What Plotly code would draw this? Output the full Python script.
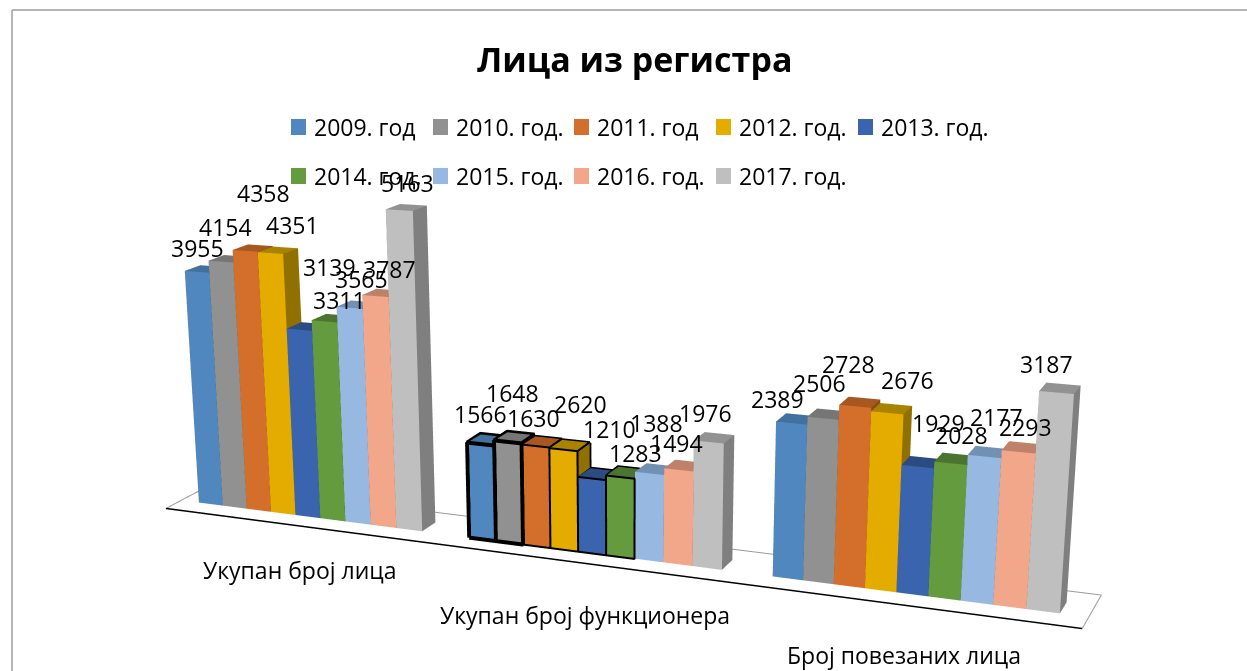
import math
import plotly.graph_objects as go

categories = ["Укупан број лица", "Укупан број функционера", "Број повезаних лица"]
series_names = ["2009. год", "2010. год.", "2011. год", "2012. год.", "2013. год.",
                "2014. год.", "2015. год.", "2016. год.", "2017. год."]
v2009 = [3955, 1566, 2389]
v2010 = [4154, 1648, 2506]
v2011 = [4358, 1630, 2728]
v2012 = [4351, 1620, 2676]   # bar height as drawn; its printed label says 2620
v2013 = [3139, 1210, 1929]
v2014 = [3311, 1283, 2028]
v2015 = [3565, 1388, 2177]
v2016 = [3787, 1494, 2293]
v2017 = [5163, 1976, 3187]
values = [v2009, v2010, v2011, v2012, v2013, v2014, v2015, v2016, v2017]
label_text_2012 = ["4351", "2620", "2676"]

# label offsets from the top of each bar, in pixels: one row per group, one entry per series
label_dx = [[0, 5, 18, 22, 30, 15, 12, 14, 8],
            [0, 4, -2, 17, 17, 15, 7, -2, -3],
            [-14, -4, -7, 20, 21, 11, 12, 7, -10]]
label_dy = [[24, 35, 58, 28, 63, 21, 29, 27, 27],
            [30, 49, 28, 45, 49, 24, 50, 27, 29],
            [24, 35, 42, 33, 44, 28, 40, 25, 29]]
cat_dx = [12, 13, 10]
cat_dy = [-46, -53, -51]
group_nudge = [-0.1, 0.0, 0.0]

front = ["#5087BE", "#919191", "#D46F2B", "#E5AC00", "#3B64AE", "#639B3E", "#97B8E0", "#F2A68A", "#BFBFBF"]
top = ["#41719C", "#767676", "#A85720", "#A98200", "#2C4B82", "#4A7430", "#7090B4", "#BE8169", "#929292"]
side = ["#35597F", "#5F5F5F", "#8A4A1C", "#8F7000", "#24407A", "#3F6528", "#5E7C9E", "#A06E5A", "#7F7F7F"]

GROUP = 10.7
PAD = 1.15
Y0, Y1, YB = 1.0, 2.0, 3.0
XMIN_FLOOR = 0.3
XMAX = 3 * GROUP + 0.3
ZMIN, ZMAX = -1100.0, 5500.0
VAL_PER_UNIT = 450.0
SCALE_X = 3 * GROUP
SHEAR_XY, SHEAR_ZX, SHEAR_ZY = 0.33, -28.0, 90.0
EDGE_W = {0: 8, 1: 8, 2: 4, 3: 4, 4: 4, 5: 4}


def P(x, y, z):
    """Oblique view: the chart's own depth and slant, applied to data units."""
    return x + SHEAR_XY * y, y, z + SHEAR_ZX * x + SHEAR_ZY * y


def bar_x(c, s):
    return c * GROUP + PAD + group_nudge[c] + s


fig = go.Figure()
QUADS = [((0,1,5,4),'f'),((1,2,6,5),'s'),((2,3,7,6),'k'),((3,0,4,7),'k'),((4,5,6,7),'t'),((0,3,2,1),'k')]
for s, name in enumerate(series_names):
    xs, ys, zs, ii, jj, kk, fc = [], [], [], [], [], [], []
    for c, val in enumerate(values[s]):
        x0 = bar_x(c, s)
        x1 = x0 + 1
        n = len(xs)
        for (a, b, h) in [(x0, Y0, 0), (x1, Y0, 0), (x1, Y1, 0), (x0, Y1, 0),
                          (x0, Y0, val), (x1, Y0, val), (x1, Y1, val), (x0, Y1, val)]:
            X, Y, Z = P(a, b, h)
            xs.append(X); ys.append(Y); zs.append(Z)
        for q, kind in QUADS:
            col = {'f': front[s], 's': side[s], 't': top[s], 'k': side[s]}[kind]
            ii += [n+q[0], n+q[0]]; jj += [n+q[1], n+q[2]]; kk += [n+q[2], n+q[3]]
            fc += [col, col]
    fig.add_trace(go.Mesh3d(x=xs, y=ys, z=zs, i=ii, j=jj, k=kk, facecolor=fc, flatshading=True,
                            name=name, showlegend=False,
                            lighting=dict(ambient=1, diffuse=0, specular=0, fresnel=0),
                            hoverinfo="name"))


def polyline(points, color, width):
    X, Y, Z = [], [], []
    for p in points:
        if p is None:
            X.append(None); Y.append(None); Z.append(None)
        else:
            a, b, e = P(*p)
            X.append(a); Y.append(b); Z.append(e)
    fig.add_trace(go.Scatter3d(x=X, y=Y, z=Z, mode="lines", line=dict(color=color, width=width),
                               showlegend=False, hoverinfo="skip"))


polyline([(XMIN_FLOOR, 0, 0), (XMIN_FLOOR, YB, 0), (XMAX, YB, 0), (XMAX, 0, 0)], "#9a9a9a", 2)
polyline([(XMIN_FLOOR, 0, 0), (XMAX, 0, 0)], "#000000", 3)

F = Y0 - 0.03
for s, w in EDGE_W.items():
    x0 = bar_x(1, s); x1 = x0 + 1; v = values[s][1]
    polyline([(x0, F, 0), (x1, F, 0), (x1, F, v), (x0, F, v), (x0, F, 0), None,
              (x0, F, v), (x0, Y1, v + 8), (x1, Y1, v + 8), (x1, F, v), None,
              (x1 + 0.02, Y1, v), (x1 + 0.02, Y1, v * 0.75)], "#000000", w)

annos = []
FONT = "Open Sans"
for s in range(9):
    for c in range(3):
        txt = label_text_2012[c] if s == 3 else str(values[s][c])
        X, Y, Z = P(bar_x(c, s) + 0.5, Y0, values[s][c])
        annos.append(dict(x=X, y=Y, z=Z, text=txt, showarrow=False,
                          font=dict(family=FONT, size=23, color="#000000"),
                          xshift=label_dx[c][s], yshift=label_dy[c][s]))
for c, cat in enumerate(categories):
    X, Y, Z = P((c + 0.5) * GROUP, 0, 0)
    annos.append(dict(x=X, y=Y, z=Z, text=cat, showarrow=False,
                      font=dict(family=FONT, size=23, color="#000000"),
                      xshift=cat_dx[c], yshift=cat_dy[c]))

d = 1.71
yaw = math.radians(10)
pitch = math.radians(6.5)
cz = 0.121
cx = 0.065
eye = dict(x=cx + d * math.sin(yaw) * math.cos(pitch), y=-d * math.cos(yaw) * math.cos(pitch),
           z=cz + d * math.sin(pitch))

W, H = 1247, 671
shapes = [
    dict(type="line", xref="paper", yref="paper", x0=12/W, x1=1.01, y0=1-10/H, y1=1-10/H,
         line=dict(color="#9c9c9c", width=1.5)),
    dict(type="line", xref="paper", yref="paper", x0=12/W, x1=12/W, y0=-0.01, y1=1-10/H,
         line=dict(color="#9c9c9c", width=1.5)),
]
page = []
LEG_X = [291, 433, 574, 716, 858]
LEG_Y = [127, 176]
for s, name in enumerate(series_names):
    r, col = (0, s) if s < 5 else (1, s - 5)
    x, y = LEG_X[col], LEG_Y[r]
    shapes.append(dict(type="rect", xref="paper", yref="paper", x0=x/W, x1=(x+15)/W, y0=1-(y-8)/H, y1=1-(y+8)/H,
                       fillcolor=front[s], line=dict(width=0)))
    page.append(dict(xref="paper", yref="paper", x=(x+21)/W, y=1-y/H, xanchor="left", yanchor="middle",
                     text=name, showarrow=False, font=dict(family=FONT, size=23, color="#000000")))

XR = SCALE_X + 1.3
fig.update_layout(
    width=W, height=H, margin=dict(l=0, r=0, t=0, b=0),
    paper_bgcolor="#FFFFFF", font=dict(family=FONT, color="#000000"),
    title=dict(text="<b>Лица из регистра</b>", x=0.509, y=0.911, xanchor="center", yanchor="middle",
               font=dict(family=FONT, size=34, color="#000000")),
    showlegend=False,
    scene=dict(
        domain=dict(x=[0, 1], y=[0, 1]),
        aspectmode="manual",
        aspectratio=dict(x=2 * XR / SCALE_X, y=0.08, z=2 * ((ZMAX - ZMIN) / VAL_PER_UNIT) / SCALE_X),
        xaxis=dict(visible=False, range=[0, XR]),
        yaxis=dict(visible=False, range=[0, YB]),
        zaxis=dict(visible=False, range=[ZMIN, ZMAX]),
        camera=dict(eye=eye, center=dict(x=cx, y=0, z=cz), up=dict(x=0, y=0, z=1),
                    projection=dict(type="perspective")),
        annotations=annos,
    ),
    shapes=shapes,
    annotations=page,
)
fig.write_html("out.html", post_script="document.body.style.margin='0';",
               config={"displayModeBar": False})
